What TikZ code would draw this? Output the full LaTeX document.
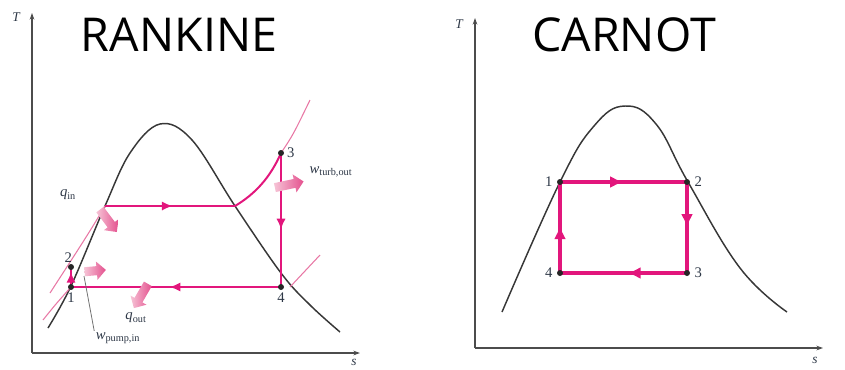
\documentclass[tikz,border=0pt]{standalone}
\usepackage{fontspec}
\setmainfont{Liberation Serif}
\newfontfamily\titlefont{Open Sans}
\usetikzlibrary{positioning,arrows.meta,shapes.arrows,decorations.markings}
\definecolor{cyclepink}{RGB}{226,22,124}
\definecolor{isopink}{RGB}{232,120,165}
\definecolor{domegray}{RGB}{55,55,55}
\definecolor{labelgray}{RGB}{45,55,70}
\definecolor{heatlight}{RGB}{246,196,214}
\definecolor{heatdark}{RGB}{228,80,142}

\begin{document}
\begin{tikzpicture}[
    x=0.75pt, y=-0.75pt,
    font=\fontsize{11}{12}\selectfont,
    >=Stealth,
    title/.style={font=\titlefont\fontsize{35}{40}\selectfont, inner sep=0pt},
    axis/.style={draw=black!70, line width=0.8pt, -{Stealth[length=5pt,width=3.5pt]}},
    dome/.style={draw=domegray, line width=1.1pt},
    cycleline/.style={draw=cyclepink, line width=1.5pt},
    carnotline/.style={draw=cyclepink, line width=3pt},
    isobar/.style={draw=isopink, line width=0.8pt},
    leader/.style={draw=black!55, line width=0.6pt},
    statept/.style={circle, fill=black!85, inner sep=0pt, minimum size=4.5pt},
    statelbl/.style={text=labelgray, inner sep=1pt},
    heatarrow/.style={single arrow, single arrow head extend=3.5pt, minimum width=0pt,
      minimum height=#1, inner xsep=0pt, inner ysep=3.2pt,
      left color=heatlight, right color=heatdark},
    midarrow/.style={postaction={decorate, decoration={markings,
      mark=at position #1 with {\arrow{Latex[length=8pt,width=7pt]}}}}},
    midarrow/.default=0.5,
    bigarrow/.style={postaction={decorate, decoration={markings,
      mark=at position #1 with {\arrow{Latex[length=10pt,width=9pt]}}}}},
    bigarrow/.default=0.5
  ]
    \useasboundingbox (0,0) rectangle (845,369);

    % ---- Rankine ----
    \node[title] (rtitle) at (179,35) {RANKINE};
    \coordinate (rorig) at (32,353);
    \coordinate (rtop) at (32,13);
    \coordinate (rright) at (360,353);
    \draw[axis] (rorig) -- (rtop);
    \draw[axis] (rorig) -- (rright);
    \node[statelbl, font=\itshape\fontsize{10}{12}\selectfont] (rT) at (16,17) {T};
    \node[statelbl, font=\itshape\fontsize{10}{12}\selectfont] (rs) at (354,362) {s};

    \coordinate (r1) at (71,287);
    \coordinate (r2) at (71,267);
    \coordinate (r3) at (281,153);
    \coordinate (r4) at (281,287);
    \coordinate (rb) at (105,206);
    \coordinate (rg) at (235,206);

    \draw[dome] plot[smooth, tension=0.6] coordinates {(48,328) (71,286) (105,206)
      (130,153) (160,124) (192,140) (235,206) (281,273) (310,305) (340,332)};

    \draw[isobar] (43,320) .. controls (55,305) .. (r1);
    \draw[isobar] (50,293) .. controls (70,262) and (88,235) .. (rb);
    \draw[isobar] (r3) .. controls (293,135) .. (310,100);
    \draw[isobar] (290,287) -- (320,255);

    \draw[cycleline, midarrow=0.52] (rb) -- (rg);
    \draw[cycleline] (rg) .. controls (255,194) and (270,178) .. (r3);
    \draw[cycleline, midarrow=0.57] (r3) -- (r4);
    \draw[cycleline, midarrow=0.53] (r4) -- (r1);
    \draw[cycleline, midarrow=0.75] (r1) -- (r2);

    \node[heatarrow=21pt, rotate=-53] (qin) at (107,219) {};
    \node[heatarrow=16pt, rotate=5] (wpump) at (93,271) {};
    \node[heatarrow=21pt, rotate=-120] (qout) at (142,294) {};
    \node[heatarrow=22pt, rotate=12] (wturb) at (287,185) {};

    \node[statept] (d1) at (r1) {};
    \node[statept] (d2) at (r2) {};
    \node[statept] (d3) at (r3) {};
    \node[statept] (d4) at (r4) {};
    \node[statelbl, below=1pt of d1] (l1) {1};
    \node[statelbl, above=0pt of d2, xshift=-2pt] (l2) {2};
    \node[statelbl, right=1pt of d3] (l3) {3};
    \node[statelbl, below=1pt of d4] (l4) {4};

    \node[statelbl] (lqin) at (68,195) {\textit{q}\textsubscript{in}};
    \node[statelbl] (lqout) at (136,318) {\textit{q}\textsubscript{out}};
    \node[statelbl] (lwturb) at (331,172) {\textit{w}\textsubscript{turb,out}};
    \node[statelbl] (lwpump) at (118,338) {\textit{w}\textsubscript{pump,in}};
    \coordinate (pumpfoot) at (84,276);
    \draw[leader] (pumpfoot) -- (lwpump.north west);

    % ---- Carnot ----
    \node[title] (ctitle) at (624,35) {CARNOT};
    \coordinate (corig) at (475,348);
    \coordinate (ctop) at (475,18);
    \coordinate (cright) at (823,348);
    \draw[axis] (corig) -- (ctop);
    \draw[axis] (corig) -- (cright);
    \node[statelbl, font=\itshape\fontsize{10}{12}\selectfont] (cT) at (459,24) {T};
    \node[statelbl, font=\itshape\fontsize{10}{12}\selectfont] (cs) at (815,360) {s};

    \draw[dome] plot[smooth, tension=0.7] coordinates {(502,312) (560,182)
      (594,126) (625,106) (656,124) (688,182) (740,268) (787,312)};

    \coordinate (c1) at (560,182);
    \coordinate (c2) at (687,182);
    \coordinate (c3) at (687,273);
    \coordinate (c4) at (560,273);
    \draw[carnotline, bigarrow] (c1) -- (c2);
    \draw[carnotline, bigarrow] (c2) -- (c3);
    \draw[carnotline, bigarrow=0.47] (c3) -- (c4);
    \draw[carnotline, bigarrow=0.52] (c4) -- (c1);

    \node[statept] (e1) at (c1) {};
    \node[statept] (e2) at (c2) {};
    \node[statept] (e3) at (c3) {};
    \node[statept] (e4) at (c4) {};
    \node[statelbl, left=2pt of e1] (k1) {1};
    \node[statelbl, right=2pt of e2] (k2) {2};
    \node[statelbl, right=2pt of e3] (k3) {3};
    \node[statelbl, left=2pt of e4] (k4) {4};
  \end{tikzpicture}
\end{document}
